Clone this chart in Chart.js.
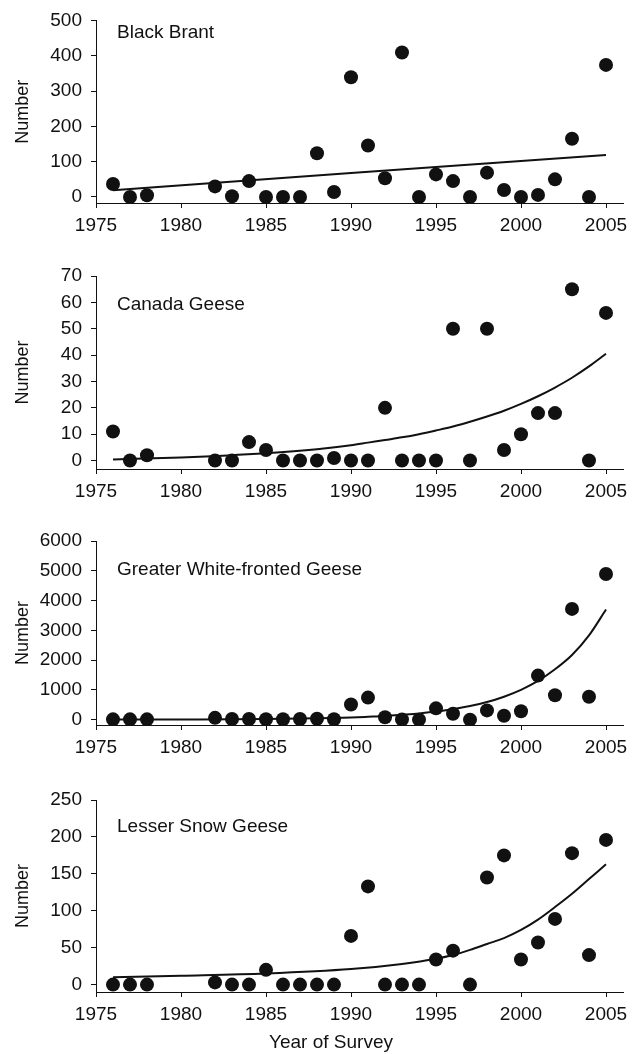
<!DOCTYPE html>
<html>
<head>
<meta charset="utf-8">
<script src="https://cdn.jsdelivr.net/npm/chart.js@4.4.1/dist/chart.umd.min.js"></script>
<style>
  html, body { margin: 0; padding: 0; background: #fff; }
  #wrap { position: relative; width: 642px; height: 1054px; }
  canvas { position: absolute; left: 0; }
</style>
</head>
<body>
<div id="wrap">
  <canvas id="c1" style="top:0px"></canvas>
  <canvas id="c2" style="top:240px"></canvas>
  <canvas id="c3" style="top:500px"></canvas>
  <canvas id="c4" style="top:770px"></canvas>
</div>
<script>
// ---- data ----
const years = [1976,1977,1978,1982,1983,1984,1985,1986,1987,1988,1989,1990,1991,1992,1993,1994,1995,1996,1997,1998,1999,2000,2001,2002,2003,2004,2005];

const blackBrant   = [37,0,5,30,2,45,0,0,0,124,14,339,146,53,409,0,64,45,0,69,20,0,6,50,165,0,374];
const canadaGeese  = [11,0,2,0,0,7,4,0,0,0,1,0,0,20,0,0,0,50,0,50,4,10,18,18,65,0,56];
const whiteFronted = [10,10,10,60,20,20,15,15,20,30,15,510,740,80,5,0,380,200,0,310,130,280,1480,820,3720,770,4890];
const snowGeese    = [0,0,0,3,0,0,20,0,0,0,0,66,133,0,0,0,34,46,0,145,175,34,57,89,178,40,196];

// fitted trend curves
const brantFitYears = [1976,1990,2005];
const brantFit      = [19,68,119];
const canadaFitYears = [1976,1980,1985,1988,1990,1991,1992,1993,1994,1995,1996,1997,1998,1999,2000,2001,2002,2003,2004,2005];
const canadaFit      = [0.4,1.2,2.8,4.3,5.8,6.8,7.8,8.8,10.0,11.4,12.9,14.7,16.7,18.9,21.5,24.4,27.7,31.4,35.7,40.5];
const whiteFitYears = [1976,1980,1985,1989,1990,1991,1992,1993,1994,1995,1996,1997,1998,1999,2000,2001,2002,2003,2004,2005];
const whiteFit      = [3,7,20,55,72,95,120,160,205,270,350,455,590,770,1000,1300,1690,2170,2830,3700];
const snowFitYears = [1976,1980,1985,1990,1993,1995,1996,1997,1998,1999,2000,2001,2002,2003,2004,2005];
const snowFit      = [10,12,15,21,28,35,40,47,55,63,74,88,105,123,143,163];

const xTicks = [1975,1980,1985,1990,1995,2000,2005];
const brantTicks  = [0,100,200,300,400,500];
const canadaTicks = [0,10,20,30,40,50,60,70];
const whiteTicks  = [0,1000,2000,3000,4000,5000,6000];
const snowTicks   = [0,50,100,150,200,250];

const panelNames = ['Black Brant','Canada Geese','Greater White-fronted Geese','Lesser Snow Geese'];

// ---- drawing ----
const FONT = "'Liberation Sans', Arial, Helvetica, sans-serif";
const INK = '#111';

function pts(xs, ys) { return xs.map((x, i) => ({x: x, y: ys[i]})); }

const labelPlugin = {
  id: 'panelLabel',
  afterDraw(chart, args, opts) {
    const ctx = chart.ctx, a = chart.chartArea;
    ctx.save();
    ctx.fillStyle = INK;
    ctx.font = '19px ' + FONT;
    ctx.textBaseline = 'middle';
    ctx.textAlign = 'left';
    ctx.fillText(opts.text, a.left + 21, a.top + opts.dy);
    if (opts.xTitle) {
      ctx.textAlign = 'center';
      ctx.fillText(opts.xTitle, opts.xTitleX, opts.xTitleY);
    }
    ctx.restore();
  }
};

function makePanel(id, cfg) {
  const cv = document.getElementById(id);
  cv.width = 642; cv.height = cfg.h;
  cv.style.width = '642px'; cv.style.height = cfg.h + 'px';
  new Chart(cv, {
    type: 'scatter',
    data: {
      datasets: [
        {
          data: pts(years, cfg.values),
          pointRadius: 7, pointHoverRadius: 7,
          backgroundColor: INK, borderWidth: 0,
          showLine: false, order: 2
        },
        {
          data: pts(cfg.fitX, cfg.fitY),
          showLine: true, pointRadius: 0, pointHoverRadius: 0,
          borderColor: INK, borderWidth: 2,
          cubicInterpolationMode: 'monotone', fill: false, order: 1
        }
      ]
    },
    options: {
      responsive: false, animation: false, devicePixelRatio: 1,
      layout: { padding: { top: cfg.padTop, right: 19, bottom: 0, left: 0 } },
      plugins: {
        legend: { display: false }, tooltip: { enabled: false },
        panelLabel: { text: cfg.name, dy: cfg.labelDy, xTitle: cfg.xTitle, xTitleX: 331, xTitleY: cfg.xTitleY }
      },
      scales: {
        x: {
          type: 'linear', min: 1975, max: 2006,
          afterBuildTicks: s => { s.ticks = xTicks.map(v => ({value: v})); },
          afterFit: s => { s.height = cfg.xh; },
          grid: { display: true, drawOnChartArea: false, drawTicks: true, tickLength: 5, color: INK },
          border: { display: true, color: INK, width: 1 },
          ticks: { color: INK, font: { family: FONT, size: 19 }, padding: 6, maxRotation: 0, autoSkip: false,
                   callback: v => String(v) }
        },
        y: {
          type: 'linear', min: cfg.ymin, max: cfg.ymax,
          afterBuildTicks: s => { s.ticks = cfg.yTicks.map(v => ({value: v})); },
          afterFit: s => { s.width = 96; },
          grid: { display: true, drawOnChartArea: false, drawTicks: true, tickLength: 5, color: INK },
          border: { display: true, color: INK, width: 1 },
          ticks: { color: INK, font: { family: FONT, size: 19 }, padding: 9, autoSkip: false,
                   callback: v => String(v) },
          title: { display: true, text: 'Number', color: INK, font: { family: FONT, size: 18 }, padding: { top: 12, bottom: 0 } }
        }
      }
    },
    plugins: [labelPlugin]
  });
}

makePanel('c1', { h: 240, padTop: 12, xh: 37, ymin: -17, ymax: 500, yTicks: brantTicks,
  values: blackBrant, fitX: brantFitYears, fitY: brantFit, name: panelNames[0], labelDy: 12 });
makePanel('c2', { h: 260, padTop: 36, xh: 31, ymin: -3.2, ymax: 70, yTicks: canadaTicks,
  values: canadaGeese, fitX: canadaFitYears, fitY: canadaFit, name: panelNames[1], labelDy: 29 });
makePanel('c3', { h: 270, padTop: 41, xh: 45, ymin: -180, ymax: 6000, yTicks: whiteTicks,
  values: whiteFronted, fitX: whiteFitYears, fitY: whiteFit, name: panelNames[2], labelDy: 29 });
makePanel('c4', { h: 284, padTop: 30, xh: 62, ymin: -10, ymax: 250, yTicks: snowTicks,
  values: snowGeese, fitX: snowFitYears, fitY: snowFit, name: panelNames[3], labelDy: 27,
  xTitle: 'Year of Survey', xTitleY: 273 });
</script>
</body>
</html>
